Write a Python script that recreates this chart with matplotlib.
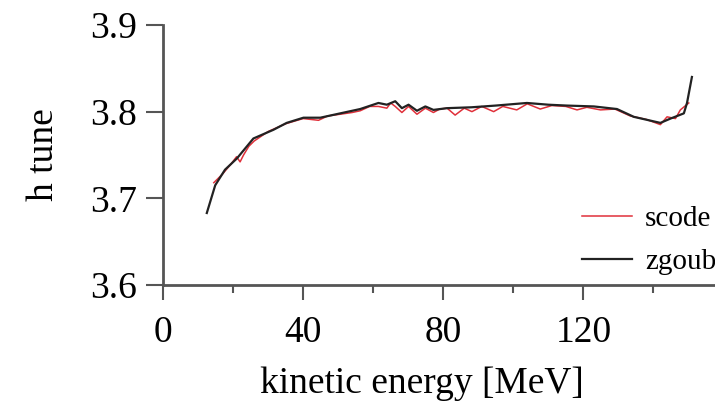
import matplotlib.pyplot as plt
from matplotlib.ticker import MultipleLocator

plt.rcParams['font.family'] = ['Liberation Serif', 'DejaVu Serif']

# zgoubi tracking: horizontal tune vs kinetic energy
energy_zgoubi = [12.5, 14.9, 17.7, 21.1, 25.8, 31.5, 35.3, 40.1, 44.9, 50.6,
                 56.3, 61.5, 63.9, 66.3, 68.2, 70.1, 72.5, 74.9, 77.2, 81.1,
                 88.0, 95.0, 103.9, 110.0, 115.3, 123.0, 129.6, 134.4, 142.0,
                 144.9, 148.7, 149.6, 151.0]
tune_zgoubi = [3.683, 3.715, 3.733, 3.746, 3.769, 3.779, 3.787, 3.793, 3.793,
               3.798, 3.803, 3.810, 3.808, 3.812, 3.804, 3.808, 3.801, 3.806,
               3.802, 3.804, 3.805, 3.807, 3.810, 3.808, 3.807, 3.806, 3.803,
               3.794, 3.787, 3.792, 3.798, 3.810, 3.840]

# scode result
energy_scode = [14.5, 17.0, 19.5, 21.0, 22.0, 23.0, 24.5, 26.0, 30.0, 35.0,
                40.0, 44.4, 47.0, 50.6, 54.0, 56.3, 59.0, 61.5, 63.9, 65.0,
                66.3, 68.2, 70.1, 72.5, 74.9, 77.2, 79.0, 81.1, 83.4, 86.0,
                88.2, 91.0, 94.4, 97.0, 101.0, 104.0, 107.7, 111.0, 115.0,
                118.2, 121.0, 124.9, 129.0, 133.4, 138.0, 142.0, 143.9, 146.3,
                147.7, 150.1]
tune_scode = [3.718, 3.728, 3.740, 3.748, 3.742, 3.750, 3.760, 3.766, 3.777,
              3.786, 3.792, 3.790, 3.795, 3.797, 3.799, 3.801, 3.806, 3.806,
              3.804, 3.810, 3.806, 3.799, 3.806, 3.797, 3.804, 3.799, 3.803,
              3.804, 3.796, 3.804, 3.800, 3.806, 3.800, 3.806, 3.802, 3.809,
              3.803, 3.807, 3.806, 3.802, 3.805, 3.802, 3.803, 3.795, 3.791,
              3.785, 3.794, 3.792, 3.802, 3.810]

fig = plt.figure(figsize=(7.15, 4.03), dpi=100)
# axes runs a little past the right edge of the figure
ax = fig.add_axes([0.228, 0.293, 0.774, 0.645])

ax.plot(energy_scode, tune_scode, color='#e0303a', lw=1.1, label='scode')
ax.plot(energy_zgoubi, tune_zgoubi, color='#222222', lw=1.6, label='zgoubi')

ax.set_xlim(0, 158)
ax.set_ylim(3.6, 3.9)
ax.xaxis.set_major_locator(MultipleLocator(40))
ax.xaxis.set_minor_locator(MultipleLocator(20))
ax.yaxis.set_major_locator(MultipleLocator(0.1))

for side in ['top', 'right']:
    ax.spines[side].set_visible(False)
for side in ['left', 'bottom']:
    ax.spines[side].set_color('#555555')
    ax.spines[side].set_linewidth(2)

ax.tick_params(axis='x', which='major', length=11, width=1.5, color='#555555',
               labelsize=27, pad=11)
ax.tick_params(axis='x', which='minor', length=6, width=1.5, color='#555555')
ax.tick_params(axis='y', which='major', length=12, width=1.5, color='#555555',
               labelsize=27, pad=7)

ax.set_xlabel('kinetic energy [MeV]', fontsize=27)
ax.set_ylabel('h tune', fontsize=27)
ax.xaxis.set_label_coords(0.468, -0.313)
ax.yaxis.set_label_coords(-0.185, 0.5)

# legend sits at the right edge, partly past the figure border
ax.legend(loc='lower left', bbox_to_anchor=(0.71, -0.062), frameon=False,
          fontsize=21, handlelength=1.7, handletextpad=0.45, labelspacing=0.55,
          borderaxespad=0.5)

fig.savefig('out.png', dpi=100)
